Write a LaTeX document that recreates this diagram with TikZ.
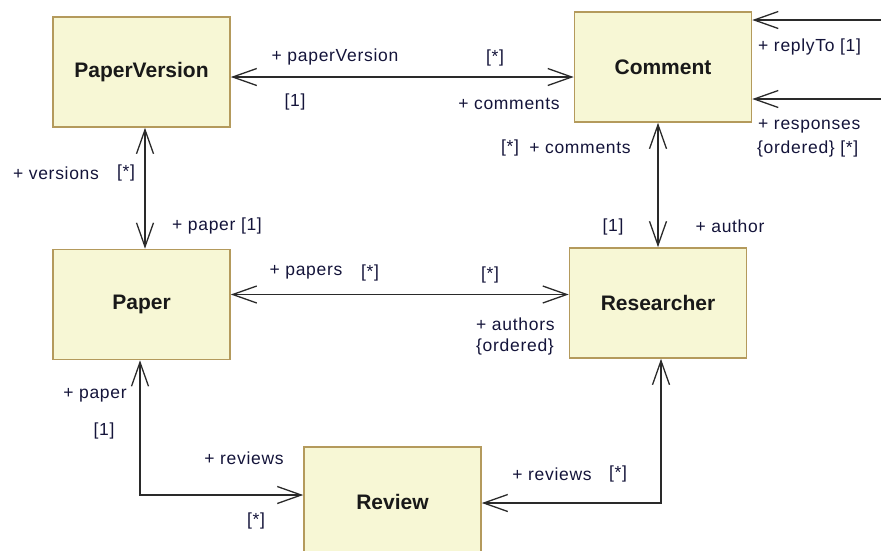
\documentclass[tikz,border=0pt]{standalone}
\usepackage{fontspec}
\setmainfont{Liberation Sans}
\newfontfamily\rolefont[LetterSpace=4]{Liberation Sans}
\usetikzlibrary{arrows.meta}
\definecolor{classFill}{HTML}{F7F7D5}
\definecolor{classLine}{HTML}{B49A5C}
\definecolor{roleText}{HTML}{14143A}
\definecolor{assocLine}{HTML}{2A2A2A}

\begin{document}
\begin{tikzpicture}[x = 1pt, y = -1pt]
	\tikzstyle{classStyle} = [draw = classLine, fill = classFill, line width = 1.6pt, minimum width = 177pt, minimum height = 110pt, inner sep = 0pt, font = \fontsize{21}{24}\selectfont\bfseries, text = black!90]
	\tikzstyle{roleStyle} = [inner sep = 0pt, font = \rolefont\fontsize{17.5}{19}\selectfont, text = roleText]
	\tikzstyle{assocStyle} = [draw = assocLine, line width = 1.3pt, {Straight Barb[length = 24pt, width = 17pt]}-{Straight Barb[length = 24pt, width = 17pt]}]
	\useasboundingbox (0, 0) rectangle (881, 550);
	\clip (0, 0) rectangle (881, 550);
	\node[classStyle] (PaperVersion) at (141.5, 72) {PaperVersion};
	\node[classStyle] (Comment) at (663, 67) {Comment};
	\node[classStyle] (Paper) at (141.5, 304.5) {Paper};
	\node[classStyle] (Researcher) at (658, 303) {Researcher};
	\node[classStyle] (Review) at (392.5, 502) {Review};
	\draw[assocStyle] ([yshift = -5pt]PaperVersion.east) -- ([yshift = -10pt]Comment.west);
	\draw[assocStyle] ([xshift = 3.5pt]PaperVersion.south) -- ([xshift = 3.5pt]Paper.north);
	\draw[assocStyle] ([xshift = -5pt]Comment.south) -- (Researcher.north);
	\draw[assocStyle] ([yshift = 10pt]Paper.east) -- ([yshift = 8.5pt]Researcher.west);
	\draw[assocStyle] ([xshift = -1.5pt]Paper.south) |- ([yshift = 7pt]Review.west);
	\draw[assocStyle] ([xshift = 3pt]Researcher.south) |- ([yshift = -1pt]Review.east);
	\draw[assocStyle] ([yshift = 47pt]Comment.east) -- ++(160, 0) |- ([yshift = -32pt]Comment.east);
	\node[roleStyle] (pvRole) at (335, 57) {+ paperVersion};
	\node[roleStyle] (pvMult) at (295, 102) {[1]};
	\node[roleStyle] (cmMult) at (495, 58) {[*]};
	\node[roleStyle] (cmRole) at (509, 104) {+ comments};
	\node[roleStyle] (verRole) at (56, 173) {+ versions};
	\node[roleStyle] (verMult) at (126, 173) {[*]};
	\node[roleStyle] (papRole) at (217, 226) {+ paper [1]};
	\node[roleStyle, anchor = west] (repRole) at (758, 47) {+ replyTo [1]};
	\node[roleStyle, anchor = west] (respRole) at (758, 126) {+ responses};
	\node[roleStyle, anchor = west] (respMult) at (757, 149) {\{ordered\} [*]};
	\node[roleStyle] (ccMult) at (510, 148) {[*]};
	\node[roleStyle] (ccRole) at (580, 148) {+ comments};
	\node[roleStyle] (autMult) at (613, 227) {[1]};
	\node[roleStyle] (autRole) at (730, 226) {+ author};
	\node[roleStyle] (papsRole) at (306, 272) {+ papers};
	\node[roleStyle] (papsMult) at (370, 273) {[*]};
	\node[roleStyle] (authMult) at (490, 275) {[*]};
	\node[roleStyle, anchor = west] (authRole) at (476, 324) {+ authors};
	\node[roleStyle, anchor = west] (authOrd) at (476, 347) {\{ordered\}};
	\node[roleStyle] (rpRole) at (95, 395) {+ paper};
	\node[roleStyle] (rpMult) at (104, 431) {[1]};
	\node[roleStyle] (rvRole) at (244, 458) {+ reviews};
	\node[roleStyle] (rvMult) at (256, 521) {[*]};
	\node[roleStyle] (rrRole) at (552, 474) {+ reviews};
	\node[roleStyle] (rrMult) at (618, 474) {[*]};
\end{tikzpicture}
\end{document}
